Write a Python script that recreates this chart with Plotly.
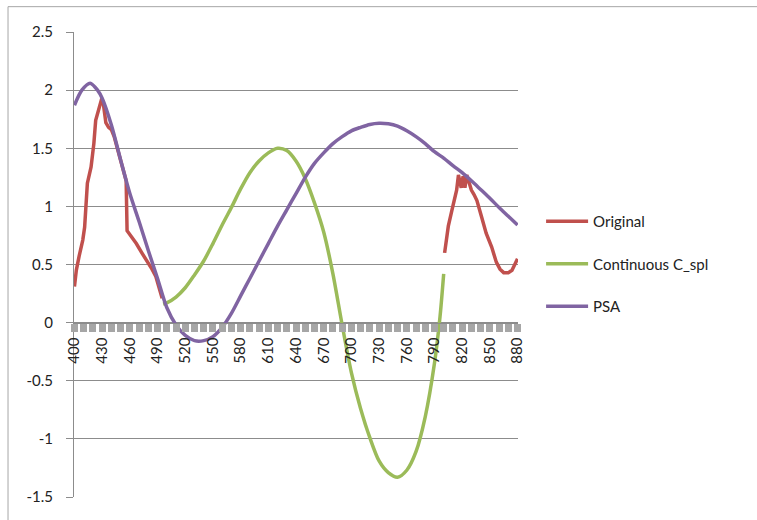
import plotly.graph_objects as go

# Wavelength (nm) / value pairs for each series
orig_nm = [400, 402, 405, 409, 411, 414, 418, 421, 423, 427, 429, 431, 433, 434, 437, 440,
           443, 447, 452, 456, 457, 462, 467, 473, 478, 484, 488, 492, 495,
           None,
           801, 805, 809, 812, 814, 816, 818, 819, 821, 823, 825, 827, 830, 833, 836,
           841, 846, 852, 857, 861, 865, 870, 874, 877, 880]
orig_val = [0.31, 0.45, 0.57, 0.71, 0.82, 1.20, 1.34, 1.54, 1.74, 1.86, 1.91, 1.90, 1.78, 1.72, 1.68, 1.66,
            1.60, 1.48, 1.33, 1.22, 0.79, 0.74, 0.68, 0.60, 0.54, 0.46, 0.40, 0.30, 0.21,
            None,
            0.60, 0.83, 0.97, 1.06, 1.14, 1.27, 1.20, 1.16, 1.26, 1.16, 1.27, 1.22, 1.14, 1.10, 1.05,
            0.91, 0.77, 0.65, 0.52, 0.46, 0.43, 0.43, 0.45, 0.50, 0.55]

spl_nm = [496, 500, 510, 520, 530, 540, 550, 560, 570, 580, 590, 600, 610, 620, 630, 640,
          650, 660, 670, 680, 690, 700, 710, 720, 730, 740, 750, 760, 770, 780, 790, 796, 800]
spl_val = [0.16, 0.17, 0.22, 0.30, 0.41, 0.53, 0.68, 0.84, 0.99, 1.15, 1.29, 1.39, 1.46, 1.50, 1.48, 1.39,
           1.24, 1.03, 0.78, 0.42, -0.02, -0.43, -0.74, -0.99, -1.19, -1.29, -1.33, -1.27, -1.11, -0.81, -0.35, 0.05, 0.42]

psa_nm = [400, 408, 417, 425, 430, 440, 450, 460, 470, 480, 490, 500, 510, 520, 530, 540,
          550, 560, 570, 580, 590, 600, 610, 620, 630, 640, 650, 660, 670, 680, 690, 700,
          710, 720, 730, 740, 750, 760, 770, 780, 790, 800, 810, 820, 830, 840, 850, 860, 870, 880]
psa_val = [1.87, 2.00, 2.06, 2.00, 1.93, 1.70, 1.40, 1.11, 0.87, 0.62, 0.38, 0.13, -0.02, -0.11, -0.155, -0.155,
           -0.12, -0.04, 0.08, 0.23, 0.38, 0.53, 0.68, 0.83, 0.97, 1.11, 1.25, 1.37, 1.46, 1.54, 1.60, 1.65,
           1.68, 1.705, 1.715, 1.71, 1.69, 1.65, 1.60, 1.54, 1.47, 1.415, 1.35, 1.29, 1.22, 1.145, 1.07, 0.99, 0.915, 0.84]

y_ticks = [-1.5, -1, -0.5, 0, 0.5, 1, 1.5, 2, 2.5]
y_tick_text = ["-1.5", "-1", "-0.5", "0", "0.5", "1", "1.5", "2", "2.5"]

FONT = "Lato, 'Open Sans', sans-serif"
GRID = "#8c8c8c"

fig = go.Figure()
fig.add_trace(go.Scatter(x=orig_nm, y=orig_val, name="Original", mode="lines",
                         line=dict(color="#C0504D", width=3.5), legendgroup="a", connectgaps=False))
fig.add_trace(go.Scatter(x=spl_nm, y=spl_val, name="Continuous C_spl", mode="lines",
                         line=dict(color="#9BBB59", width=3.5, shape="spline", smoothing=0.8),
                         legendgroup="b"))
fig.add_trace(go.Scatter(x=psa_nm, y=psa_val, name="PSA", mode="lines",
                         line=dict(color="#8064A2", width=3.5, shape="spline", smoothing=0.8),
                         legendgroup="c"))

fig.update_layout(
    width=757, height=520,
    margin=dict(l=74, r=239, t=32, b=23),
    paper_bgcolor="white", plot_bgcolor="white",
    font=dict(family=FONT, size=15, color="#222"),
    showlegend=True,
    legend=dict(x=1.052, y=0.628, xanchor="left", yanchor="top",
                tracegroupgap=20, itemwidth=42, bgcolor="rgba(0,0,0,0)",
                font=dict(family=FONT, size=15, color="#222")),
    xaxis=dict(range=[399.5, 880.5], anchor="free", position=0.375,
               showgrid=False, zeroline=False, showline=True, linecolor=GRID, linewidth=1,
               tick0=400, dtick=30, ticks="outside", ticklen=8, tickwidth=7, tickcolor="#a6a6a6",
               tickangle=-90, tickfont=dict(family=FONT, size=15, color="#222"),
               minor=dict(tick0=400, dtick=10, ticks="outside", ticklen=8, tickwidth=7,
                          tickcolor="#a6a6a6", showgrid=False)),
    yaxis=dict(range=[-1.5, 2.5], tickvals=y_ticks, ticktext=y_tick_text,
               showgrid=True, gridcolor=GRID, gridwidth=1, zeroline=False,
               showline=True, linecolor=GRID, linewidth=1,
               ticks="outside", ticklen=7, tickcolor=GRID, ticklabelstandoff=10,
               tickfont=dict(family=FONT, size=15, color="#222")),
    shapes=[dict(type="rect", xref="paper", yref="paper", x0=-0.1486, x1=1.7, y0=-0.2, y1=1.0545,
                 line=dict(color="#a6a6a6", width=1), fillcolor="rgba(0,0,0,0)", layer="below")],
)

fig.write_html("out.html")
